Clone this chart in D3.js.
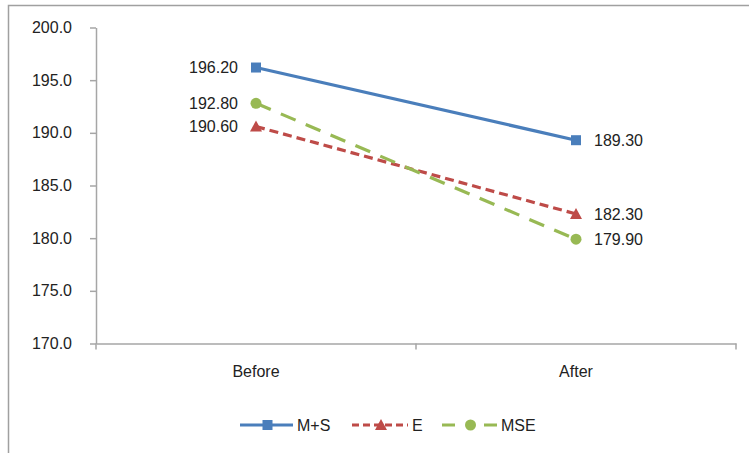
<!DOCTYPE html>
<html>
<head>
<meta charset="utf-8">
<script src="https://cdn.jsdelivr.net/npm/d3@7"></script>
<style>
  body { margin: 0; background: #fff; }
  text { font-family: "Liberation Sans", Arial, sans-serif; fill: #222; }
  .axis path, .axis line { stroke: #a6a6a6; stroke-width: 1.5; }
</style>
</head>
<body>
<div id="wrapper"></div>
<script>
// chart values
const categories = ["Before", "After"] ;
const yTicks = [170, 175, 180, 185, 190, 195, 200] ;
const seriesNames = ["M+S", "E", "MSE"] ;
const msValues = [196.2, 189.3] ;
const eValues = [190.6, 182.3] ;
const mseValues = [192.8, 179.9] ;

const seriesStyle = {
  "M+S": {color: "#4a7ebb", dash: null, legendDash: null, marker: "square"},
  "E": {color: "#be4b48", dash: "9,5", legendDash: "7,4", marker: "triangle"},
  "MSE": {color: "#98b954", dash: "16,11", legendDash: "13,29", marker: "circle"}
} ;

const series = [
  {name: "M+S", values: msValues},
  {name: "E", values: eValues},
  {name: "MSE", values: mseValues}
] ;

let dimensions = {
  width: 749,
  height: 453,
  margin: {top: 27.5, right: 13, bottom: 109.5, left: 96}
} ;
dimensions.boundedWidth = dimensions.width - dimensions.margin.left - dimensions.margin.right ;
dimensions.boundedHeight = dimensions.height - dimensions.margin.top - dimensions.margin.bottom ;

const svg = d3.select("#wrapper").append("svg")
  .attr("width", dimensions.width)
  .attr("height", dimensions.height) ;

// outer chart border (runs off the right / bottom edge)
svg.append("rect")
  .attr("x", 8.5).attr("y", 5.5)
  .attr("width", 800).attr("height", 500)
  .attr("fill", "none")
  .attr("stroke", "#a0a0a0")
  .attr("stroke-width", 1.5) ;

const bounds = svg.append("g")
  .attr("transform", `translate(${dimensions.margin.left}, ${dimensions.margin.top})`) ;

const xScale = d3.scaleBand()
  .domain(categories)
  .range([0, dimensions.boundedWidth])
  .padding(0) ;

const yScale = d3.scaleLinear()
  .domain([170, 200])
  .range([dimensions.boundedHeight, 0]) ;

const xPos = (i) => xScale(categories[i]) + xScale.bandwidth() / 2 ;

// axes
const yAxis = bounds.append("g")
  .attr("class", "axis")
  .call(d3.axisLeft(yScale).tickValues(yTicks).tickFormat(d3.format(".1f")).tickSize(6).tickSizeOuter(0)) ;
yAxis.selectAll("text")
  .attr("x", -24)
  .style("font-size", "16px") ;

const xAxis = bounds.append("g")
  .attr("class", "axis")
  .attr("transform", `translate(0, ${dimensions.boundedHeight})`)
  .call(d3.axisBottom(xScale).tickSize(0).tickSizeOuter(0)) ;
xAxis.selectAll("text")
  .attr("y", 22)
  .style("font-size", "16px") ;
// category boundary ticks
const boundaries = [0, xScale.bandwidth(), dimensions.boundedWidth] ;
xAxis.selectAll(".bticks")
  .data(boundaries)
  .enter().append("line")
    .attr("x1", (d) => d).attr("x2", (d) => d)
    .attr("y1", 0).attr("y2", 6)
    .attr("stroke", "#a6a6a6")
    .attr("stroke-width", 1.5) ;

const line = d3.line()
  .x((d, i) => xPos(i))
  .y((d) => yScale(d)) ;

function drawMarker(g, kind, x, y, color) {
  if (kind == "square") {
    g.append("rect").attr("x", x - 5).attr("y", y - 5).attr("width", 10).attr("height", 10).attr("fill", color) ;
  } else if (kind == "triangle") {
    g.append("path").attr("d", `M${x},${y - 6}L${x + 6},${y + 5}L${x - 6},${y + 5}Z`).attr("fill", color) ;
  } else {
    g.append("circle").attr("cx", x).attr("cy", y).attr("r", 5.5).attr("fill", color) ;
  }
}

// draw series
series.forEach((s) => {
  const st = seriesStyle[s.name] ;
  const g = bounds.append("g") ;
  g.append("path")
    .datum(s.values)
    .attr("d", line)
    .attr("fill", "none")
    .attr("stroke", st.color)
    .attr("stroke-width", 3.2)
    .attr("stroke-dasharray", st.dash) ;
  s.values.forEach((v, i) => {
    drawMarker(g, st.marker, xPos(i), yScale(v), st.color) ;
    g.append("text")
      .attr("x", i == 0 ? xPos(i) - 18 : xPos(i) + 18)
      .attr("y", yScale(v))
      .attr("dy", "0.35em")
      .attr("text-anchor", i == 0 ? "end" : "start")
      .style("font-size", "16px")
      .text(d3.format(".2f")(v)) ;
  }) ;
}) ;

// legend
const legend = svg.append("g").attr("transform", "translate(240, 425)") ;
const legendX = [0, 112, 202] ;
const legendLen = [53, 56, 55] ;
seriesNames.forEach((name, i) => {
  const st = seriesStyle[name] ;
  const lg = legend.append("g").attr("transform", `translate(${legendX[i]}, 0)`) ;
  lg.append("line")
    .attr("x1", 0).attr("x2", legendLen[i])
    .attr("y1", 0).attr("y2", 0)
    .attr("stroke", st.color)
    .attr("stroke-width", 3)
    .attr("stroke-dasharray", st.legendDash) ;
  drawMarker(lg, st.marker, legendLen[i] / 2 + 1, 0, st.color) ;
  lg.append("text")
    .attr("x", legendLen[i] + 4)
    .attr("y", 0)
    .attr("dy", "0.35em")
    .style("font-size", "16px")
    .text(name) ;
}) ;
</script>
</body>
</html>
